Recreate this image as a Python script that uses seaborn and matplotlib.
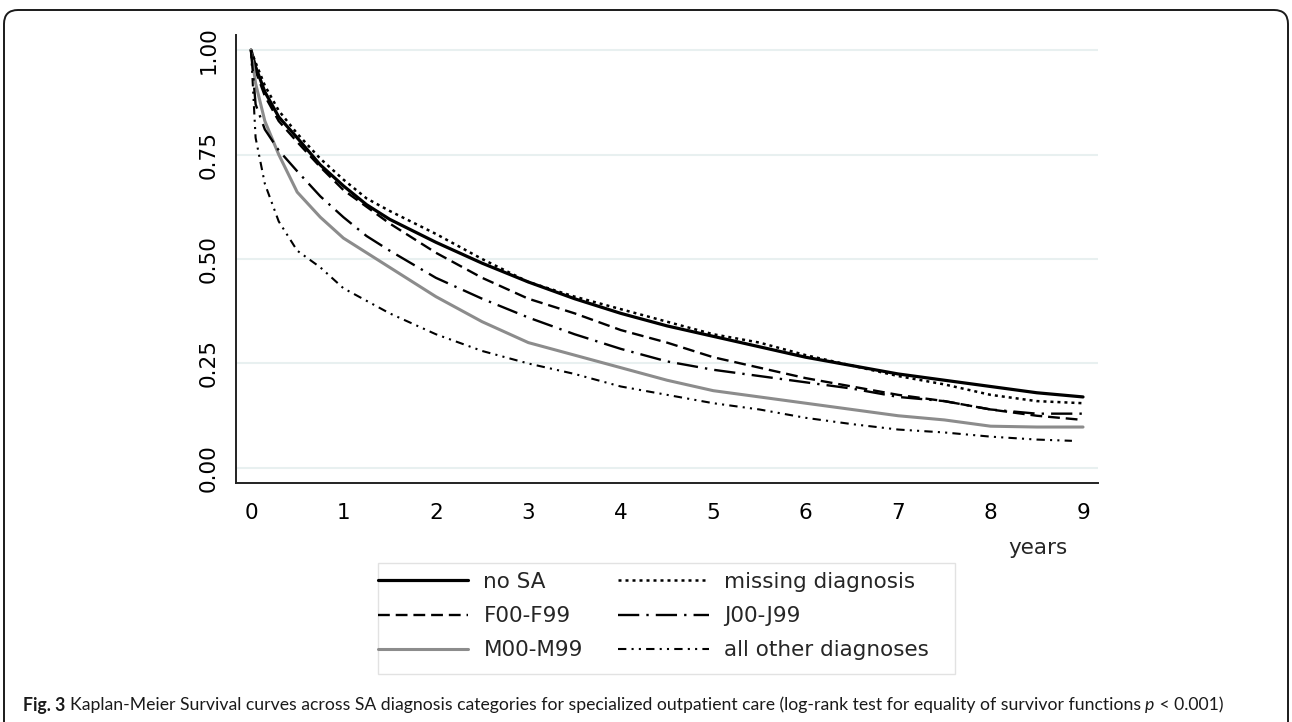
import matplotlib
matplotlib.use("Agg")
import matplotlib.pyplot as plt
import seaborn as sns
import pandas as pd
from matplotlib.patches import FancyBboxPatch, Rectangle
from matplotlib.transforms import IdentityTransform

# survival estimates (years since start)
years = [0, 0.05, 0.15, 0.3, 0.5, 0.75, 1, 1.25, 1.5, 2, 2.5, 3, 3.5, 4,
         4.5, 5, 5.5, 6, 6.5, 7, 7.5, 8, 8.5, 9]
years_other = [0, 0.05, 0.15, 0.3, 0.5, 0.75, 1, 1.25, 1.5, 2, 2.5, 3, 3.5, 4,
               4.5, 5, 5.5, 6, 6.5, 7, 7.5, 8, 8.5, 8.88]

no_sa = [1.0, 0.96, 0.90, 0.84, 0.79, 0.725, 0.675, 0.63, 0.595, 0.54, 0.49, 0.445,
         0.405, 0.37, 0.34, 0.315, 0.29, 0.265, 0.245, 0.225, 0.21, 0.195, 0.18, 0.17]
missing = [1.0, 0.97, 0.915, 0.855, 0.80, 0.74, 0.69, 0.645, 0.615, 0.56, 0.50, 0.445,
           0.41, 0.38, 0.35, 0.32, 0.30, 0.27, 0.245, 0.22, 0.20, 0.175, 0.16, 0.155]
f00 = [1.0, 0.95, 0.89, 0.83, 0.78, 0.72, 0.665, 0.625, 0.585, 0.515, 0.455, 0.405,
       0.37, 0.33, 0.30, 0.265, 0.24, 0.215, 0.195, 0.175, 0.16, 0.14, 0.125, 0.115]
j00 = [1.0, 0.87, 0.81, 0.76, 0.71, 0.65, 0.60, 0.555, 0.52, 0.455, 0.405, 0.36,
       0.32, 0.285, 0.255, 0.235, 0.22, 0.205, 0.19, 0.17, 0.16, 0.14, 0.13, 0.13]
m00 = [1.0, 0.92, 0.83, 0.75, 0.66, 0.60, 0.55, 0.515, 0.48, 0.41, 0.35, 0.30,
       0.27, 0.24, 0.21, 0.185, 0.17, 0.155, 0.14, 0.125, 0.115, 0.10, 0.098, 0.098]
other = [1.0, 0.79, 0.68, 0.59, 0.52, 0.48, 0.43, 0.40, 0.37, 0.32, 0.28, 0.25,
         0.225, 0.195, 0.175, 0.155, 0.14, 0.12, 0.105, 0.092, 0.085, 0.075, 0.068, 0.065]

# legend order (column-wise): no SA, F00, M00 | missing, J00, other
series = [
    ("no SA", years, no_sa, "black", 2.3, "-"),
    ("F00-F99", years, f00, "black", 1.7, (0, (5, 2.5))),
    ("M00-M99", years, m00, "#8c8c8c", 2.2, "-"),
    ("missing diagnosis", years, missing, "black", 1.8, (0, (1.2, 1.6))),
    ("J00-J99", years, j00, "black", 1.7, (0, (9, 3, 1, 3))),
    ("all other diagnoses", years_other, other, "black", 1.5, (0, (4, 2.5, 1, 2.5, 1, 2.5))),
]

sns.set_style("white")
plt.rcParams["font.family"] = ["DejaVu Sans"]

W, H = 1292, 722
fig = plt.figure(figsize=(W / 100, H / 100), dpi=100)
ax = fig.add_axes([236 / W, 1 - 483 / H, (1098 - 236) / W, (483 - 35) / H])

for name, t, s, col, lw, ls in series:
    df = pd.DataFrame({"years": t, "surv": s})
    sns.lineplot(data=df, x="years", y="surv", ax=ax, color=col, lw=lw, ls=ls,
                 estimator=None, sort=False, label=name)

ax.set_xlim(-0.162, 9.162)
ax.set_ylim(-0.0359, 1.0359)
ax.set_xticks(range(10))
ax.set_yticks([0, 0.25, 0.5, 0.75, 1.0])
ax.set_yticklabels(["0.00", "0.25", "0.50", "0.75", "1.00"], rotation=90, va="center")
ax.tick_params(axis="both", direction="out", length=6.5, width=1.2, colors="#222222",
               labelsize=15.5, labelcolor="black")
ax.tick_params(axis="x", pad=8)
ax.tick_params(axis="y", pad=6)
ax.yaxis.grid(True, color="#e8f0f0", lw=1.5)
ax.xaxis.grid(False)
ax.set_xlabel("")
ax.set_ylabel("")
for side in ["top", "right"]:
    ax.spines[side].set_visible(False)
for side in ["left", "bottom"]:
    ax.spines[side].set_color("#222222")
    ax.spines[side].set_linewidth(1.4)

fig.text(1068 / W, 1 - 548 / H, "years", ha="right", va="center", fontsize=15.5)

handles, labels = ax.get_legend_handles_labels()
ax.get_legend().remove()
leg = fig.legend(handles, labels, ncol=2, loc="upper left",
                 bbox_to_anchor=(378 / W, 1 - 572 / H), fontsize=15.5,
                 frameon=False, handlelength=4.2, handletextpad=0.7,
                 columnspacing=1.65, labelspacing=0.66, borderpad=0, borderaxespad=0)

# legend frame
fig.patches.append(Rectangle((378, H - 674), 955 - 378, 674 - 563, transform=IdentityTransform(),
                             fill=False, ec="#e2e2e2", lw=1.0))

# outer rounded border
border = FancyBboxPatch((4, -40), 1284, 752, boxstyle="round,pad=0,rounding_size=14",
                        transform=IdentityTransform(), fill=False, ec="#1a1a1a", lw=1.4)
fig.patches.append(border)

# caption with bold lead and italic p
fig.canvas.draw()
renderer = fig.canvas.get_renderer()
cap_y = 1 - 705 / H
x = 23
parts = [("Fig. 3 ", "bold", "normal"),
         ("Kaplan-Meier Survival curves across SA diagnosis categories for specialized "
          "outpatient care (log-rank test for equality of survivor functions ", "normal", "normal"),
         ("p", "normal", "italic"),
         (" < 0.001)", "normal", "normal")]
for txt, weight, style in parts:
    t = fig.text(x / W, cap_y, txt, ha="left", va="center", fontsize=12.7,
                 family="Lato", weight=weight, style=style, color="#1a1a1a")
    bb = t.get_window_extent(renderer)
    x += bb.width

fig.savefig("out.png", dpi=100)
